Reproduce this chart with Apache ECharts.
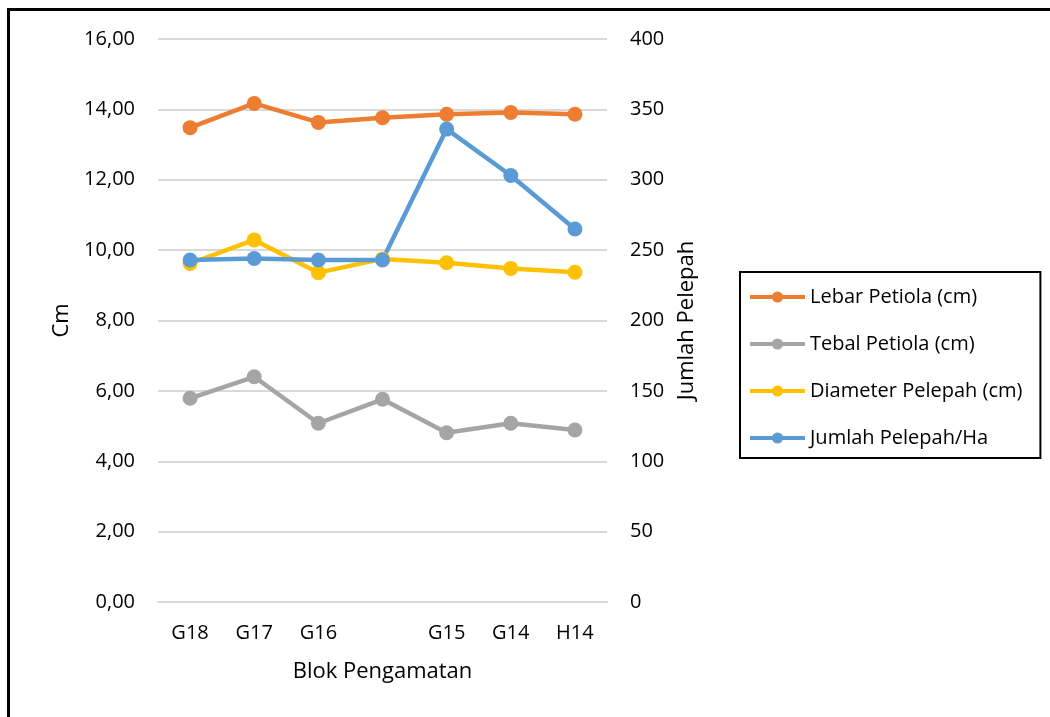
<!DOCTYPE html>
<html>
<head>
<meta charset="utf-8">
<script src="https://cdn.jsdelivr.net/npm/echarts@6/dist/echarts.min.js"></script>
<style>
html,body{margin:0;padding:0;background:#fff;}
#frame{position:absolute;left:7px;top:8px;width:1100px;height:800px;border:3px solid #000;box-sizing:border-box;}
#chart{position:absolute;left:0;top:0;width:1050px;height:717px;}
</style>
</head>
<body>
<div id="frame"></div>
<div id="chart"></div>
<script>
const categories = ['G18', 'G17', 'G16', '', 'G15', 'G14', 'H14'];
const lebarPetiola = [13.48, 14.17, 13.63, 13.76, 13.86, 13.91, 13.86];
const tebalPetiola = [5.79, 6.40, 5.08, 5.76, 4.81, 5.08, 4.89];
const diameterPelepah = [9.62, 10.29, 9.36, 9.75, 9.64, 9.48, 9.37];
const jumlahPelepah = [243, 244, 243, 243, 336, 303, 265];
const seriesNames = ['Lebar Petiola (cm)', 'Tebal Petiola (cm)', 'Diameter Pelepah (cm)', 'Jumlah Pelepah/Ha'];
const colors = ['#ED7D31', '#A5A5A5', '#FFC000', '#5B9BD5'];

const FONT = 'Open Sans';
const chart = echarts.init(document.getElementById('chart'), null, {renderer: 'canvas'});

function mk(name, data, color, yIdx) {
  return {
    name: name, type: 'line', data: data, yAxisIndex: yIdx,
    symbol: 'circle', symbolSize: 15,
    lineStyle: {color: color, width: 4.5},
    itemStyle: {color: color},
    emphasis: {disabled: true}
  };
}

chart.setOption({
  animation: false,
  color: colors,
  textStyle: {fontFamily: FONT},
  grid: {left: 158, right: 443, top: 39, bottom: 115, containLabel: false},
  legend: {
    orient: 'vertical',
    left: 740, top: 272,
    padding: [15, 18, 10, 8],
    borderColor: '#000', borderWidth: 2,
    itemWidth: 55, itemHeight: 14, itemGap: 27,
    lineStyle: {width: 4},
    textStyle: {fontFamily: FONT, fontSize: 20, color: '#000'},
    data: seriesNames
  },
  xAxis: {
    type: 'category',
    data: categories,
    boundaryGap: true,
    axisLine: {lineStyle: {color: '#D9D9D9', width: 2}},
    axisTick: {show: false},
    axisLabel: {fontFamily: FONT, fontSize: 20, color: '#000', margin: 21, interval: 0},
    name: 'Blok Pengamatan',
    nameLocation: 'middle',
    nameGap: 59,
    nameTextStyle: {fontFamily: FONT, fontSize: 22, color: '#000'}
  },
  yAxis: [{
    type: 'value', min: 0, max: 16, interval: 2,
    axisLine: {show: false}, axisTick: {show: false},
    splitLine: {lineStyle: {color: '#D9D9D9', width: 2}},
    axisLabel: {fontFamily: FONT, fontSize: 20, color: '#000', margin: 23,
      formatter: v => v.toFixed(2).replace('.', ',')},
    name: 'Cm', nameLocation: 'middle', nameGap: 85, nameRotate: 90,
    nameTextStyle: {fontFamily: FONT, fontSize: 22, color: '#000'}
  }, {
    type: 'value', min: 0, max: 400, interval: 50, position: 'right',
    axisLine: {show: false}, axisTick: {show: false},
    splitLine: {show: false},
    axisLabel: {fontFamily: FONT, fontSize: 20, color: '#000', margin: 23},
    name: 'Jumlah Pelepah', nameLocation: 'middle', nameGap: 69, nameRotate: 90,
    nameTextStyle: {fontFamily: FONT, fontSize: 22, color: '#000'}
  }],
  series: [
    mk(seriesNames[0], lebarPetiola, colors[0], 0),
    mk(seriesNames[1], tebalPetiola, colors[1], 0),
    mk(seriesNames[2], diameterPelepah, colors[2], 0),
    mk(seriesNames[3], jumlahPelepah, colors[3], 1)
  ]
});
</script>
</body>
</html>
